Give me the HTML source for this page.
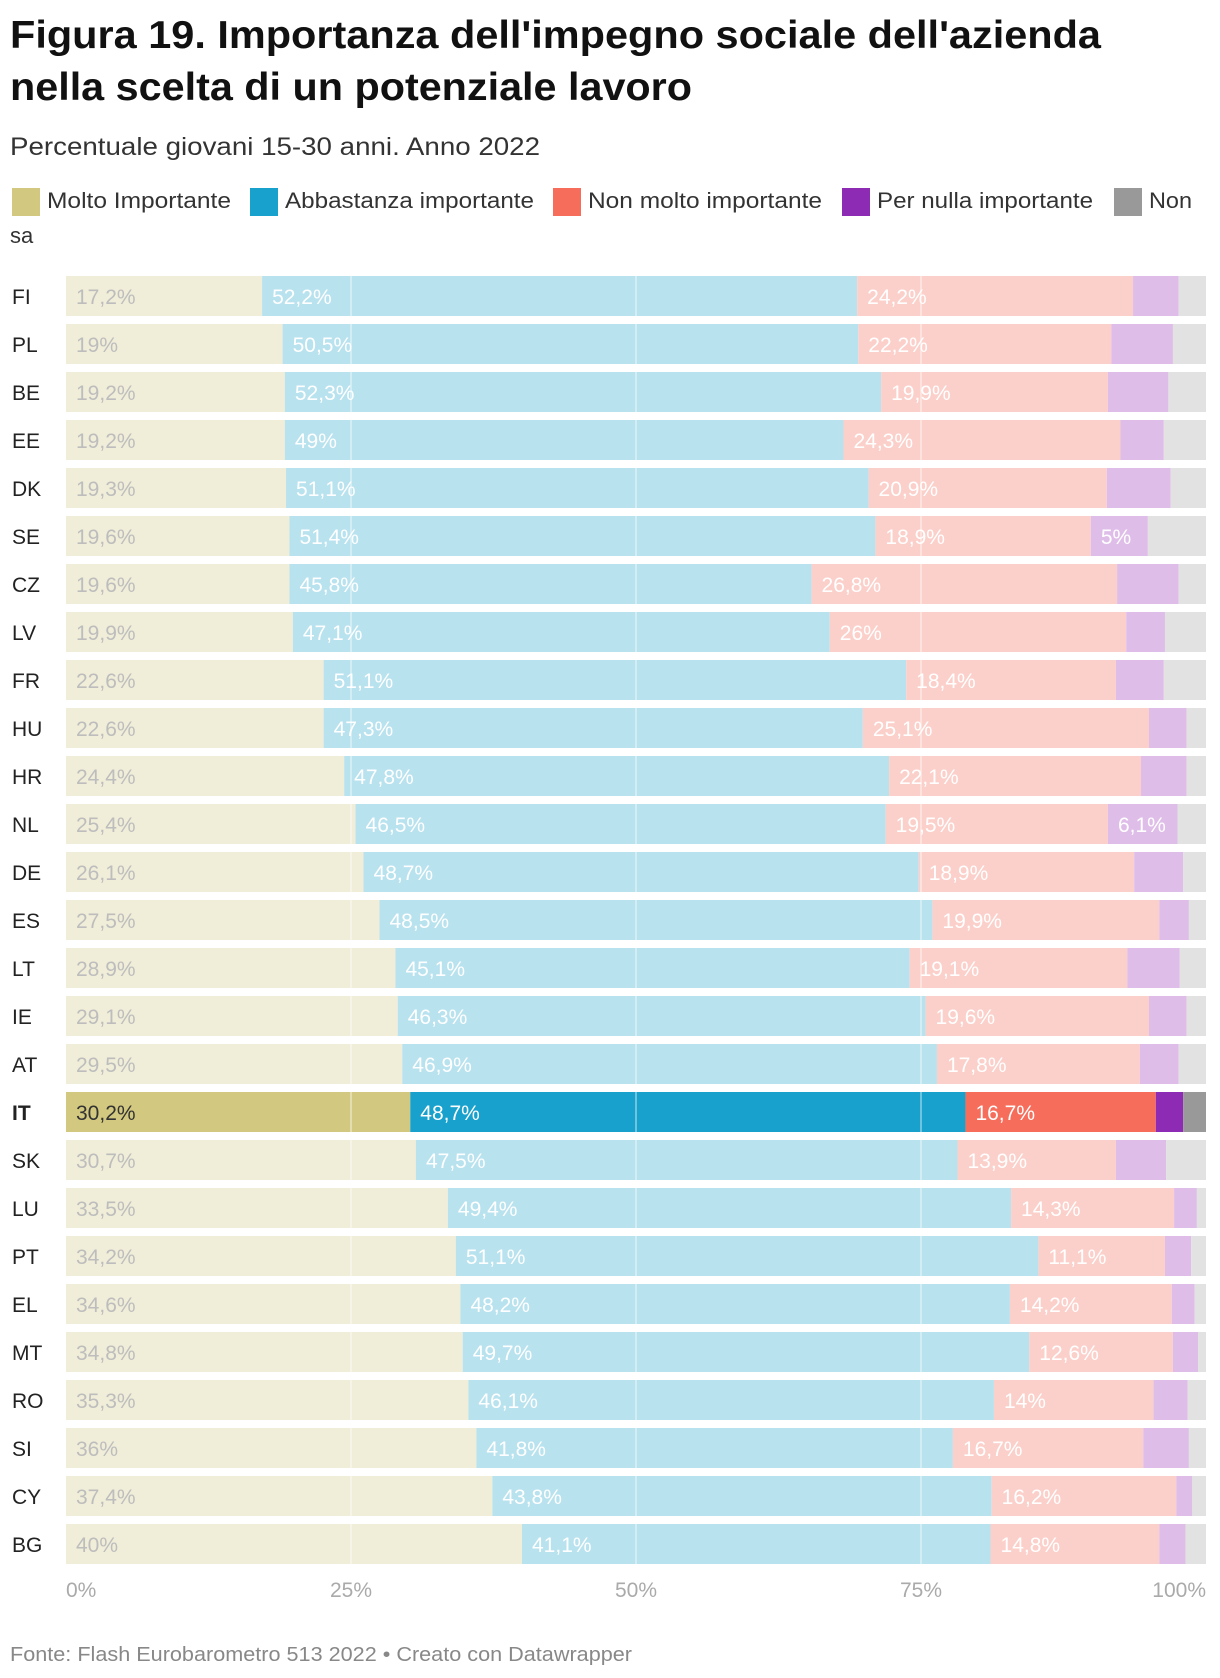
<!DOCTYPE html>
<html><head><meta charset="utf-8">
<style>
body{margin:0;background:#fff;font-family:"Liberation Sans",sans-serif;}
svg{display:block}
</style></head>
<body>
<svg id="chart" width="1220" height="1678" xmlns="http://www.w3.org/2000/svg">
<text x="10" y="48" font-size="39" font-weight="bold" fill="#111" textLength="1091" lengthAdjust="spacingAndGlyphs">Figura 19. Importanza dell'impegno sociale dell'azienda</text>
<text x="10" y="100" font-size="39" font-weight="bold" fill="#111" textLength="682" lengthAdjust="spacingAndGlyphs">nella scelta di un potenziale lavoro</text>
<text x="10" y="155" font-size="25" fill="#333" textLength="530" lengthAdjust="spacingAndGlyphs">Percentuale giovani 15-30 anni. Anno 2022</text>
<g id="legend"></g>
<g id="bars"></g>
<text x="10" y="1661" font-size="20" fill="#888" textLength="622" lengthAdjust="spacingAndGlyphs">Fonte: Flash Eurobarometro 513 2022 • Creato con Datawrapper</text>
</svg>
<script>
const countries=["FI","PL","BE","EE","DK","SE","CZ","LV","FR","HU","HR","NL","DE","ES","LT","IE","AT","IT","SK","LU","PT","EL","MT","RO","SI","CY","BG"];
const molto=[17.2,19,19.2,19.2,19.3,19.6,19.6,19.9,22.6,22.6,24.4,25.4,26.1,27.5,28.9,29.1,29.5,30.2,30.7,33.5,34.2,34.6,34.8,35.3,36,37.4,40];
const abbastanza=[52.2,50.5,52.3,49,51.1,51.4,45.8,47.1,51.1,47.3,47.8,46.5,48.7,48.5,45.1,46.3,46.9,48.7,47.5,49.4,51.1,48.2,49.7,46.1,41.8,43.8,41.1];
const nonMolto=[24.2,22.2,19.9,24.3,20.9,18.9,26.8,26,18.4,25.1,22.1,19.5,18.9,19.9,19.1,19.6,17.8,16.7,13.9,14.3,11.1,14.2,12.6,14,16.7,16.2,14.8];
const perNulla=[4.0,5.4,5.3,3.8,5.6,5,5.4,3.4,4.2,3.3,4.0,6.1,4.3,2.6,4.6,3.3,3.4,2.4,4.4,2.0,2.3,2.0,2.2,3.0,4.0,1.4,2.3];
const nonSa=[2.4,2.9,3.3,3.7,3.1,5.1,2.4,3.6,3.7,1.7,1.7,2.5,2,1.5,2.3,1.7,2.4,2.0,3.5,0.8,1.3,1.0,0.7,1.6,1.5,1.2,1.8];
const seriesNames=["Molto Importante","Abbastanza importante","Non molto importante","Per nulla importante","Non"];
const ticks=[0,25,50,75,100];
const series=[molto,abbastanza,nonMolto,perNulla,nonSa];
const strong=["#d3c87f","#18a1cd","#f76d5b","#8e2bb5","#999999"];
const light=["#f0edd8","#b9e2ef","#fcd0ca","#dfbde9","#e2e2e2"];
const NS="http://www.w3.org/2000/svg";
const X0=66,W=1140,Y0=276,PITCH=48,BH=40;
const xs=v=>X0+v/100*W;
const ys=i=>Y0+i*PITCH;
function mk(tag,attrs,parent){const e=document.createElementNS(NS,tag);for(const k in attrs)e.setAttribute(k,attrs[k]);parent.appendChild(e);return e;}
const leg=document.getElementById('legend');
const legX=[12,250,553,842,1114];
const legW=[184,249,234,216,43];
seriesNames.forEach((n,i)=>{
  const g=mk('g',{},leg);
  
  
  mk('rect',{x:legX[i],y:188,width:28,height:28,fill:strong[i]},g);
  const t=mk('text',{x:legX[i]+35,y:208,'font-size':22,fill:'#333',textLength:legW[i],lengthAdjust:'spacingAndGlyphs'},g);
  t.textContent=n;
});
const sa=mk('text',{x:10,y:243,'font-size':22,fill:'#333'},leg);
sa.textContent="sa";
const bars=document.getElementById('bars');
countries.forEach((c,i)=>{
  const isIT=c==="IT";
  const g=mk('g',{},bars);
  
  
  const lab=mk('text',{x:12,y:ys(i)+BH/2+8,'font-size':21,fill:'#222','font-weight':isIT?'bold':'normal'},g);
  lab.textContent=c;
  let acc=0;
  series.forEach((s,k)=>{
    const v=s[i];
    const r=mk('rect',{x:xs(acc),y:ys(i),width:Math.max(0,xs(acc+v)-xs(acc)),height:BH,fill:isIT?strong[k]:light[k]},g);
    
    
    if(k<3||(k===3&&(v>=6||(Number.isInteger(v)&&v>=5)))){
      const t=mk('text',{x:xs(acc)+10,y:ys(i)+BH/2+8,'font-size':21,fill:k===0?(isIT?'#333':'#bdbdbd'):'#fff'},g);
      t.textContent=String(v).replace('.',',')+'%';
    }
    acc+=v;
  });
});
ticks.forEach(t=>{
  if(t>0&&t<100){
    const l=mk('line',{x1:xs(t),x2:xs(t),y1:ys(0),y2:ys(countries.length-1)+BH,stroke:'#fff','stroke-opacity':0.5,'stroke-width':1.5},bars);
    
    
  }
  const tx=mk('text',{x:xs(t),y:1597,'font-size':21,fill:'#aaa','text-anchor':t===0?'start':(t===100?'end':'middle')},bars);
  
  
  tx.textContent=t+'%';
});
</script>
</body></html>
